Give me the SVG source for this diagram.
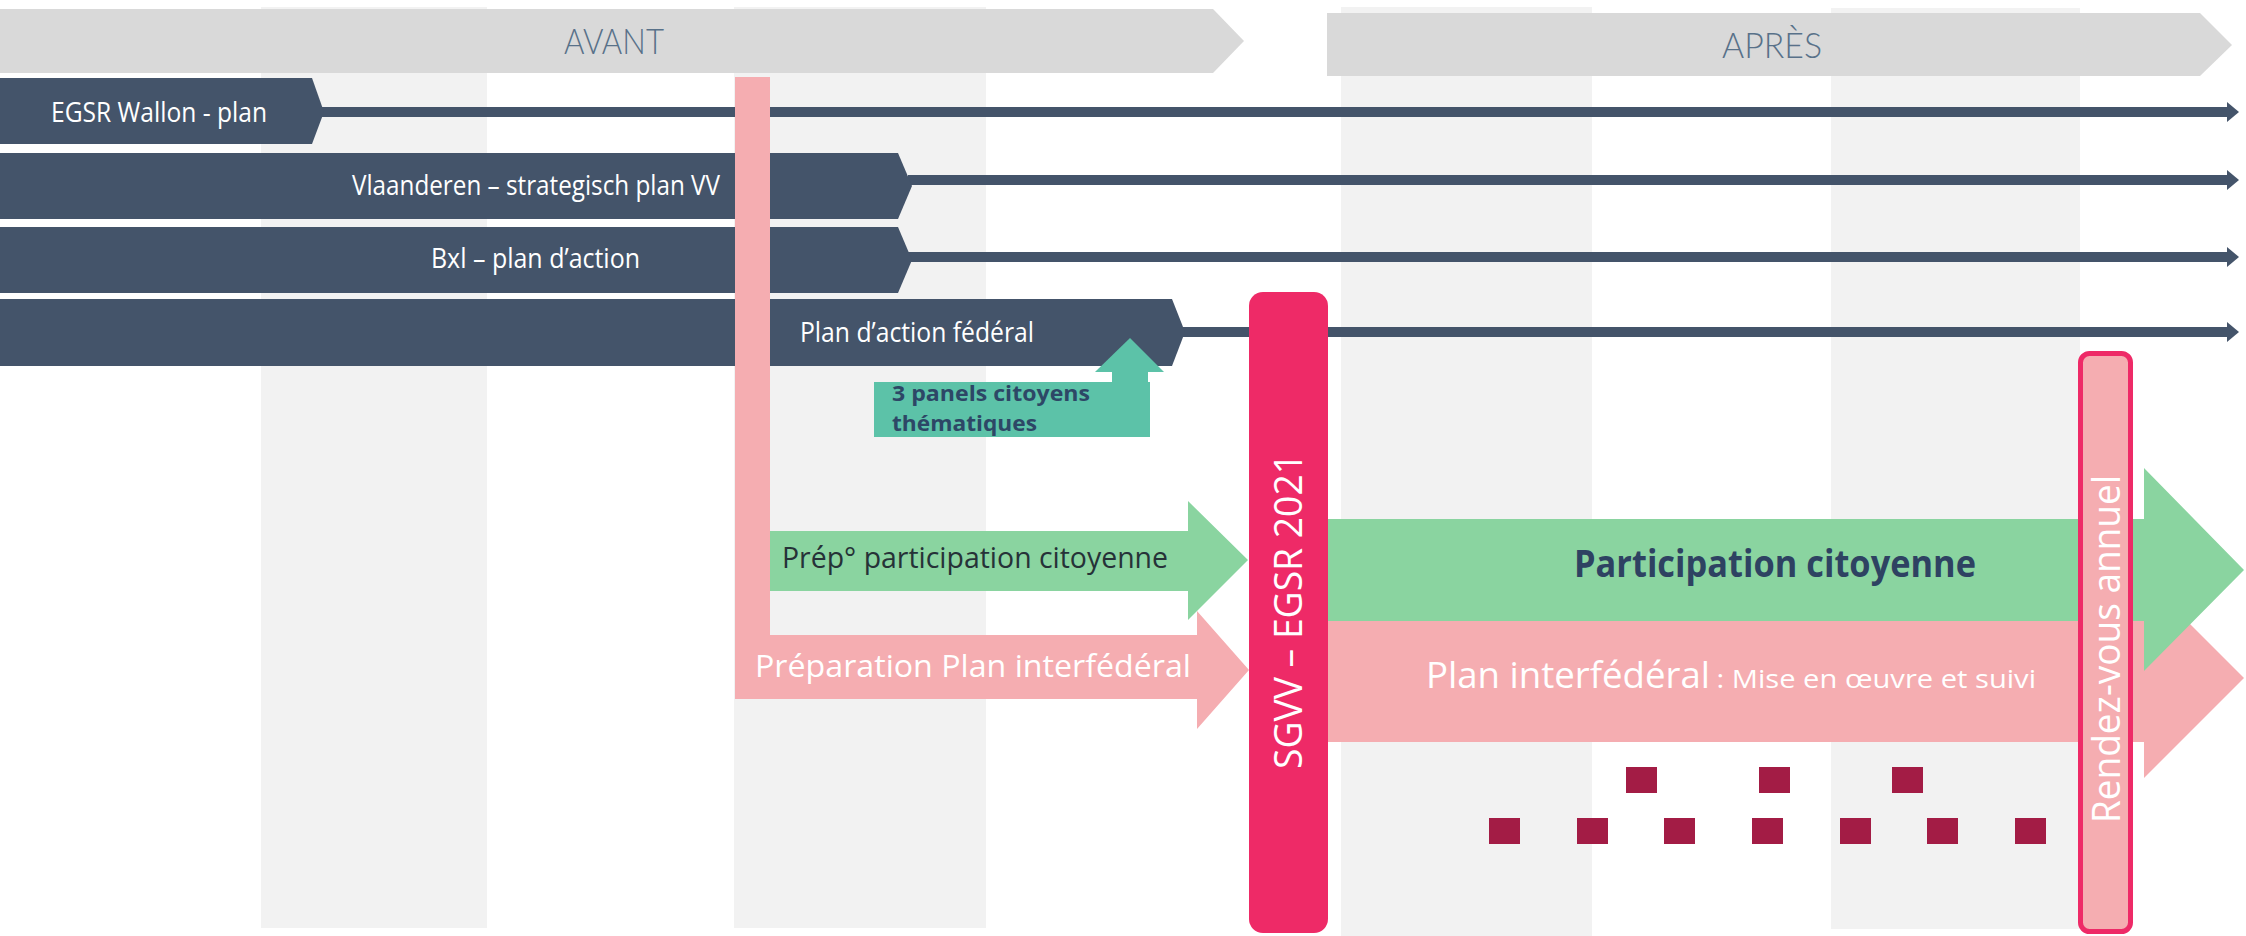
<svg xmlns="http://www.w3.org/2000/svg" width="2246" height="936" viewBox="0 0 2246 936">
<style>
.col{fill:#f2f2f2}
.hdr{fill:#d9d9d9}
.hdrt{font-family:Lato,"Open Sans",sans-serif;font-weight:300;font-size:35px;fill:#587189}
.bar{fill:#44546a}
.bart{font-family:"Open Sans","Noto Sans",sans-serif;font-size:27px;fill:#ffffff}
.pink{fill:#f5adb1}
.green{fill:#8ad4a0}
.teal{fill:#5cc2a8}
.red{fill:#ee2a67}
.sq{fill:#a31c45}
.tl{stroke:#44546a;stroke-width:10;fill:none}
.lbl{font-family:"Open Sans","Noto Sans",sans-serif}
</style>
<defs>
<marker id="ah" viewBox="0 0 12 20" markerWidth="12" markerHeight="20" refX="0" refY="10" orient="auto" markerUnits="userSpaceOnUse">
<path d="M0,0 L12,10 L0,20 Z" fill="#44546a"/>
</marker>
</defs>
<rect width="2246" height="936" fill="#ffffff"/>
<g id="columns">
<rect class="col" x="261" y="7" width="226" height="921"/>
<rect class="col" x="734" y="7" width="252" height="921"/>
<rect class="col" x="1341" y="7" width="251" height="929"/>
<rect class="col" x="1831" y="8" width="249" height="921"/>
</g>
<g id="avant">
<polygon class="hdr" points="0,9 1213,9 1244,41 1213,73 0,73"/>
<text class="hdrt" x="564" y="54" textLength="100" lengthAdjust="spacingAndGlyphs">AVANT</text>
</g>
<g id="apres">
<polygon class="hdr" points="1327,13 2200,13 2232,45 2200,76 1327,76"/>
<text class="hdrt" x="1722" y="58" textLength="100" lengthAdjust="spacingAndGlyphs">APRÈS</text>
</g>
<g id="connectors">
<line class="tl" x1="320" y1="112" x2="2227" y2="112" marker-end="url(#ah)"/>
<line class="tl" x1="908" y1="180" x2="2227" y2="180" marker-end="url(#ah)"/>
<line class="tl" x1="908" y1="257" x2="2227" y2="257" marker-end="url(#ah)"/>
<line class="tl" x1="1180" y1="332" x2="2227" y2="332" marker-end="url(#ah)"/>
</g>
<g id="egsr-wallon">
<polygon class="bar" points="0,78 312,78 324,112 312,144 0,144"/>
<text class="bart" x="51" y="122" textLength="216" lengthAdjust="spacingAndGlyphs">EGSR Wallon - plan</text>
</g>
<g id="vlaanderen">
<polygon class="bar" points="0,153 898,153 912,186 898,219 0,219"/>
<text class="bart" x="352" y="195" textLength="368" lengthAdjust="spacingAndGlyphs">Vlaanderen – strategisch plan VV</text>
</g>
<g id="bxl">
<polygon class="bar" points="0,227 898,227 912,260 898,293 0,293"/>
<text class="bart" x="431" y="268" textLength="209" lengthAdjust="spacingAndGlyphs">Bxl – plan d’action</text>
</g>
<g id="federal">
<polygon class="bar" points="0,299 1172,299 1185,332 1172,366 0,366"/>
</g>
<g id="prep-interfederal">
<rect class="pink" x="735" y="77" width="35" height="622"/>
<polygon class="pink" points="737,635 1197,635 1197,611 1249,670 1197,729 1197,699 737,699"/>
<text class="lbl" x="755" y="677" font-size="31" fill="#ffffff" textLength="436" lengthAdjust="spacingAndGlyphs">Préparation Plan interfédéral</text>
</g>
<g id="federal-label">
<text class="bart" x="800" y="342" textLength="234" lengthAdjust="spacingAndGlyphs">Plan d’action fédéral</text>
</g>
<g id="prep-participation">
<polygon class="green" points="770,531 1188,531 1188,501 1248,560 1188,620 1188,591 770,591"/>
<text class="lbl" x="782" y="568" font-size="29" fill="#263238" textLength="386" lengthAdjust="spacingAndGlyphs">Prép° participation citoyenne</text>
</g>
<g id="panels">
<rect class="teal" x="874" y="382" width="276" height="55"/>
<rect class="teal" x="1112" y="370" width="36" height="14"/>
<polygon class="teal" points="1095,372 1130,338 1164,372"/>
<text class="lbl" x="892" y="401" font-size="21" font-weight="700" fill="#2d4766" textLength="198" lengthAdjust="spacingAndGlyphs">3 panels citoyens</text>
<text class="lbl" x="892" y="431" font-size="21" font-weight="700" fill="#2d4766" textLength="145" lengthAdjust="spacingAndGlyphs">thématiques</text>
</g>
<g id="plan-interfederal">
<polygon class="pink" points="1300,621 2144,621 2144,578 2244,678 2144,778 2144,742 1300,742"/>
<text class="lbl" y="688" fill="#ffffff"><tspan x="1426" font-size="36" textLength="284" lengthAdjust="spacingAndGlyphs">Plan interfédéral</tspan><tspan x="1709" font-size="26" textLength="327" lengthAdjust="spacingAndGlyphs"> : Mise en œuvre et suivi</tspan></text>
</g>
<g id="participation">
<polygon class="green" points="1300,519 2144,519 2144,468 2244,570 2144,671 2144,621 1300,621"/>
<text class="lbl" x="1574" y="577" font-size="37" font-weight="700" fill="#2e4262" textLength="402" lengthAdjust="spacingAndGlyphs">Participation citoyenne</text>
</g>
<g id="sgvv">
<rect class="red" x="1249" y="292" width="79" height="641" rx="14"/>
<text class="lbl" transform="translate(1302,611) rotate(-90)" x="-158" y="0" font-size="38" fill="#ffffff" textLength="316" lengthAdjust="spacingAndGlyphs">SGVV – EGSR 2021</text>
</g>
<g id="rendez-vous">
<rect x="2080.5" y="353.5" width="50" height="578" rx="9" fill="#f5adb1" stroke="#ee2a67" stroke-width="5"/>
<text class="lbl" transform="translate(2120,649) rotate(-90)" x="-174" y="0" font-size="39" fill="#ffffff" textLength="348" lengthAdjust="spacingAndGlyphs">Rendez-vous annuel</text>
</g>
<g id="milestones">
<rect class="sq" x="1626" y="767" width="31" height="26"/>
<rect class="sq" x="1759" y="767" width="31" height="26"/>
<rect class="sq" x="1892" y="767" width="31" height="26"/>
<rect class="sq" x="1489" y="818" width="31" height="26"/>
<rect class="sq" x="1577" y="818" width="31" height="26"/>
<rect class="sq" x="1664" y="818" width="31" height="26"/>
<rect class="sq" x="1752" y="818" width="31" height="26"/>
<rect class="sq" x="1840" y="818" width="31" height="26"/>
<rect class="sq" x="1927" y="818" width="31" height="26"/>
<rect class="sq" x="2015" y="818" width="31" height="26"/>
</g>
</svg>
